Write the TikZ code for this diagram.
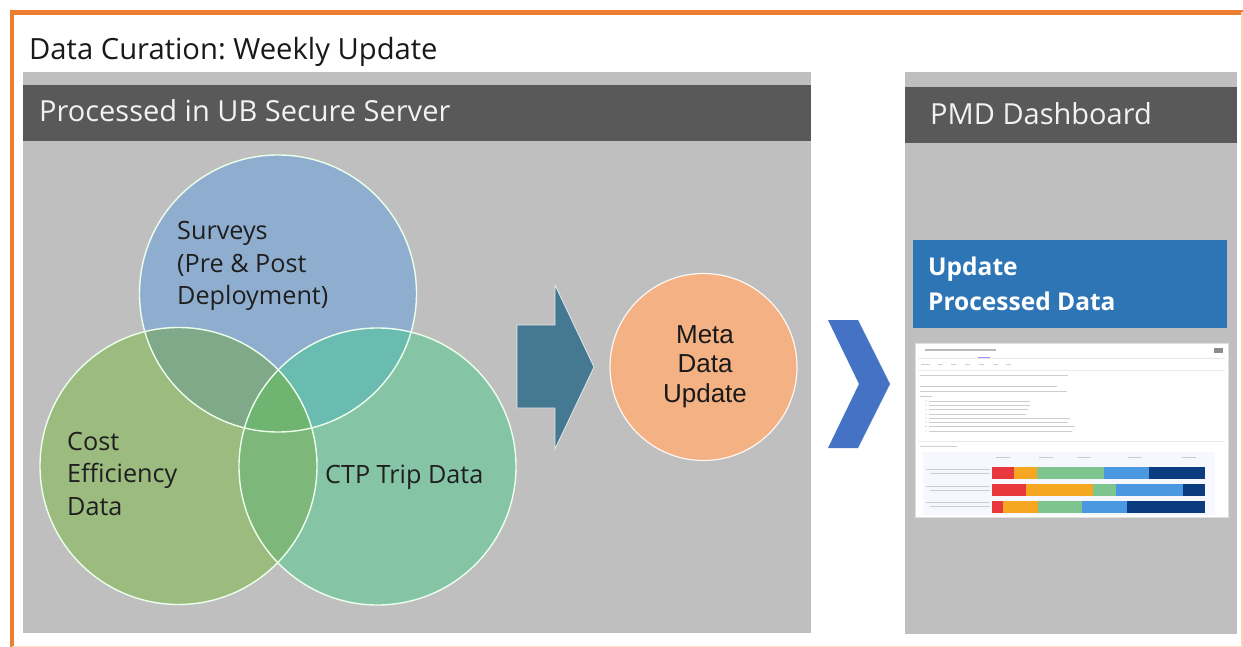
\documentclass[tikz,border=0pt]{standalone}
\usepackage{fontspec}
\setmainfont{Open Sans}
\newfontfamily\arialf{Liberation Sans}
\usetikzlibrary{calc}
\frenchspacing
\definecolor{orangeframe}{HTML}{ED7D31}
\definecolor{panelgray}{HTML}{BFBFBF}
\definecolor{headgray}{HTML}{595959}
\definecolor{survc}{HTML}{8FAECF}
\definecolor{costc}{HTML}{9BBB7F}
\definecolor{ctpc}{HTML}{86C4A6}
\definecolor{sc}{HTML}{80A98A}
\definecolor{st}{HTML}{6ABBB0}
\definecolor{ct}{HTML}{7DB77A}
\definecolor{sct}{HTML}{70B472}
\definecolor{arrowc}{HTML}{457891}
\definecolor{metac}{HTML}{F4B183}
\definecolor{chevc}{HTML}{4472C4}
\definecolor{updc}{HTML}{2E75B6}
\definecolor{barred}{HTML}{E8383D}
\definecolor{barorange}{HTML}{F5A623}
\definecolor{bargreen}{HTML}{7DC48E}
\definecolor{barblue}{HTML}{4A98E0}
\definecolor{barnavy}{HTML}{0B3C82}
\definecolor{txtgray}{HTML}{B8B8B8}
\tikzset{
  headtext/.style={anchor=base west, text=white!95!black, font=\fontsize{29}{33}\selectfont, inner sep=0pt},
  venntext/.style={anchor=base west, align=left, text=black!88, font=\fontsize{25.2}{32.5}\selectfont, inner sep=0pt},
  fake/.style={draw=txtgray, line width=1.1pt},
  fakelite/.style={draw=txtgray!70, line width=0.9pt},
  vennline/.style={draw=white!92!green, line width=1.4pt},
}
\begin{document}
\begin{tikzpicture}[x=1pt,y=-1pt]
\useasboundingbox (0,0) rectangle (1243,647);
\fill[white] (0,0) rectangle (1243,647);
% orange frame
\draw[orangeframe, line width=4.5pt] (1246,12.5) -- (12,12.5) -- (12,650);
\draw[orangeframe!35, line width=1.5pt] (1242,12.5) -- (1242,647);
\draw[orangeframe!25, line width=1.5pt] (12,646.5) -- (1243,646.5);
% title
\node[anchor=base west, inner sep=0pt, text=black!90, font=\fontsize{29.2}{33}\selectfont] (title) at (29,59.5) {Data Curation: Weekly Update};
% left panel
\fill[panelgray] (23,72) rectangle (811,633);
\fill[headgray] (23,85) rectangle (811,141);
\node[headtext] (lefthead) at (39,121.5) {Processed in UB Secure Server};
% right panel
\fill[panelgray] (905,72) rectangle (1237,634);
\fill[headgray] (905,87) rectangle (1237,143);
\node[headtext] (righthead) at (930,125) {PMD Dashboard};
% venn circles
\coordinate (cS) at (278,293.5);
\coordinate (cC) at (178.5,466);
\coordinate (cT) at (377.5,466.5);
\fill[survc] (cS) circle[radius=138.5pt];
\fill[costc] (cC) circle[radius=138.5pt];
\fill[ctpc] (cT) circle[radius=138.5pt];
\begin{scope}
  \clip (cS) circle[radius=138.5pt];
  \fill[sc] (cC) circle[radius=138.5pt];
  \fill[st] (cT) circle[radius=138.5pt];
  \clip (cC) circle[radius=138.5pt];
  \fill[sct] (cT) circle[radius=138.5pt];
\end{scope}
\begin{scope}
  \clip (cC) circle[radius=138.5pt];
  \clip (cT) circle[radius=138.5pt];
  \fill[ct] (cT) circle[radius=138.5pt];
  \clip (cS) circle[radius=138.5pt];
  \fill[sct] (cS) circle[radius=138.5pt];
\end{scope}
\draw[vennline] (cS) circle[radius=138.5pt];
\draw[vennline] (cC) circle[radius=138.5pt];
\draw[vennline] (cT) circle[radius=138.5pt];
\node[venntext] (surveys) at (177,305) {Surveys\\(Pre \& Post\\Deployment)};
\node[venntext] (cost) at (67,515) {Cost\\Efficiency\\Data};
\node[venntext] (ctp) at (325,483) {CTP Trip Data};
% block arrow
\fill[arrowc] (517,325) -- (555,325) -- (555,285) -- (594,367) -- (555,449) -- (555,408) -- (517,408) -- cycle;
\draw[white!85!arrowc, line width=0.8pt] (517,325) -- (555,325) -- (555,285) -- (594,367) -- (555,449) -- (555,408) -- (517,408) -- cycle;
% meta data circle
\node[circle, fill=metac, draw=white!90!metac, line width=1.2pt, minimum size=187pt, inner sep=0pt] (meta) at (703.5,367) {};
\node[anchor=base, align=center, font=\arialf\fontsize{26}{29.5}\selectfont, text=black!90, inner sep=0pt] (metatxt) at (705,402) {Meta\\Data\\Update};
% chevron
\fill[chevc] (828,320) -- (858,320) -- (890,384) -- (858,448) -- (828,448) -- (859,384) -- cycle;
% update box
\fill[updc] (913,240) rectangle (1227,328);
\node[anchor=base west, inner sep=0pt, text=white, font=\bfseries\fontsize{24.5}{35}\selectfont, align=left] (upd) at (928,310) {Update\\Processed Data};
% dashboard screenshot
\fill[white] (915,343) rectangle (1228,517);
\draw[black!12, line width=0.5pt] (915,343) rectangle (1228,517);
\draw[fake] (925,350) -- (996,350);
\fill[black!45] (1214,347.5) rectangle (1223,352.5);
\draw[blue!20!black!10, line width=0.5pt] (918,358) -- (1225,358);
\draw[blue!40, line width=0.6pt] (978,357.5) -- (990,357.5);
\foreach \x/\w in {921/9,938/5,951/5,965/5,979/5,993/5,1006/5}
  \draw[fakelite] (\x,364.5) -- ++(\w,0);
\draw[black!8, line width=0.5pt] (918,370) -- (1225,370);
\draw[fakelite] (920,375) -- (1068,375);
\draw[fakelite] (920,386) -- (1057,386);
\draw[fakelite] (920,391) -- (1067,391);
\draw[fakelite] (920,396.5) -- (932,396.5);
\foreach \y/\e in {401/1030,405/1030,409.5/1028,414/1026,418/1070,422/1068,426.5/1075,431/1072}{
  \fill[txtgray] (926,\y) circle[radius=0.6pt];
  \draw[fakelite, line width=0.7pt] (929,\y) -- (\e,\y);
}
\draw[black!8, line width=0.5pt] (918,441) -- (1225,441);
\draw[fakelite] (920,446) -- (957,446);
\fill[blue!3] (923,452) rectangle (1215,515);
\foreach \x in {1003,1046,1084,1135,1189}
  \draw[fakelite, line width=0.7pt] (\x-7,457) -- (\x+7,457);
\foreach \y in {469,486,502}{
  \draw[fakelite, line width=0.7pt] (926,\y) -- (990,\y);
  \draw[fakelite, line width=0.7pt] (930,\y+4) -- (990,\y+4);
}
% bars
\foreach \y/\a/\b/\c/\d in {467/1014/1037/1104/1149, 484/1026/1093/1116/1183, 500.5/1003/1038/1082/1127}{
  \fill[barred] (992,\y) rectangle (\a,\y+12);
  \fill[barorange] (\a,\y) rectangle (\b,\y+12);
  \fill[bargreen] (\b,\y) rectangle (\c,\y+12);
  \fill[barblue] (\c,\y) rectangle (\d,\y+12);
  \fill[barnavy] (\d,\y) rectangle (1205,\y+12);
}
\end{tikzpicture}
\end{document}
